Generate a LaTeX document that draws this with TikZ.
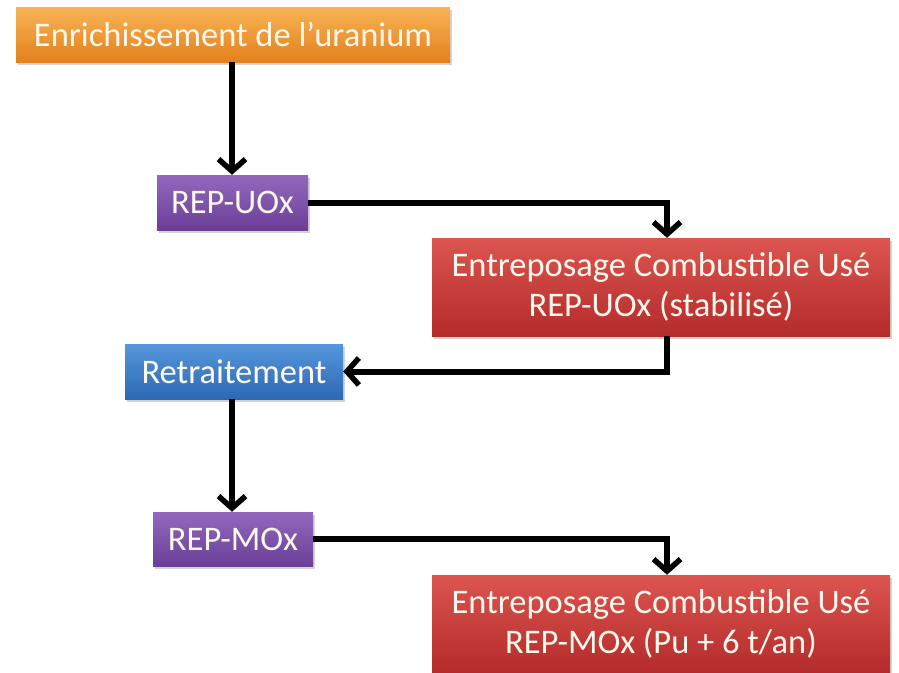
\documentclass[tikz,border=0pt]{standalone}
\usepackage{fontspec}
\setmainfont{Carlito}
\usepackage{tikz}
\usetikzlibrary{arrows.meta, positioning, shapes, calc, shadows}
\usepackage{xcolor}
\definecolor{orangetop}{HTML}{F8B455}
\definecolor{orangebot}{HTML}{E3801C}
\definecolor{violettop}{HTML}{9268BD}
\definecolor{violetbot}{HTML}{6B3F98}
\definecolor{rougetop}{HTML}{DC5550}
\definecolor{rougebot}{HTML}{B42B2B}
\definecolor{bleutop}{HTML}{5597DD}
\definecolor{bleubot}{HTML}{2D68B2}
\definecolor{texteclair}{HTML}{FFF8EC}

\begin{document}
\begin{tikzpicture}[
        x=1pt, y=-1pt,
        box/.style={rectangle, inner sep=0pt, text=texteclair, align=center,
            font=\fontsize{34.5}{40}\selectfont,
            drop shadow={shadow xshift=2pt, shadow yshift=-3pt, opacity=0.35}},
        orangebox/.style={box, top color=orangetop, bottom color=orangebot},
        violetbox/.style={box, top color=violettop, bottom color=violetbot},
        rougebox/.style={box, top color=rougetop, bottom color=rougebot},
        bleubox/.style={box, top color=bleutop, bottom color=bleubot},
        fleche/.style={line width=6pt, -{Straight Barb[length=12pt, width=27pt, line width=5.5pt]}}
    ]
        \useasboundingbox (0,0) rectangle (899,672);

        \node[orangebox, minimum width=434pt, minimum height=55pt] (enrich) at (233,34.5) {Enrichissement de l’uranium};
        \node[violetbox, minimum width=151pt, minimum height=55pt] (uox) at (232.5,202.5) {REP-UOx};
        \node[rougebox, minimum width=458pt, minimum height=98pt] (stockuox) at (661,287) {Entreposage Combustible Usé\\REP-UOx (stabilisé)};
        \node[bleubox, minimum width=218pt, minimum height=55pt] (retrait) at (234,371.5) {Retraitement};
        \node[violetbox, minimum width=160pt, minimum height=54pt] (mox) at (233,539) {REP-MOx};
        \node[rougebox, minimum width=458pt, minimum height=97pt] (stockmox) at (661,623.5) {Entreposage Combustible Usé\\REP-MOx (Pu + 6 t/an)};

        \draw[fleche] ([xshift=-1pt]enrich.south) -- ([xshift=-0.5pt]uox.north);
        \draw[fleche] (uox.east) -| ([xshift=6pt]stockuox.north);
        \draw[fleche] ([xshift=6pt]stockuox.south) |- (retrait.east);
        \draw[fleche] ([xshift=-2pt]retrait.south) -- ([xshift=-1pt]mox.north);
        \draw[fleche] (mox.east) -| ([xshift=6pt]stockmox.north);
    \end{tikzpicture}
\end{document}
